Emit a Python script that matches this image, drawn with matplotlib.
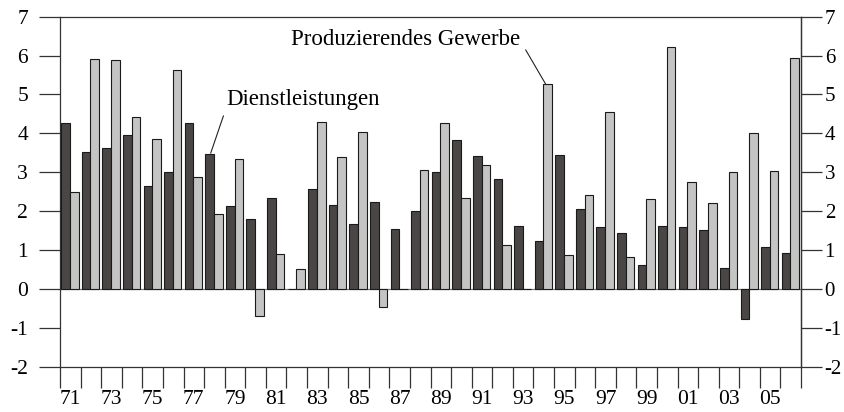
import numpy as np
import matplotlib.pyplot as plt
from matplotlib.ticker import FixedLocator, NullFormatter

years = list(range(1971, 2007))
dienstleistungen = [4.26, 3.52, 3.63, 3.96, 2.64, 3.00, 4.26, 3.48, 2.14, 1.79,
                    2.34, 0.00, 2.57, 2.16, 1.68, 2.23, 1.53, 2.01, 3.00, 3.82,
                    3.42, 2.82, 1.63, 1.23, 3.44, 2.05, 1.60, 1.45, 0.61, 1.63,
                    1.60, 1.52, 0.53, -0.77, 1.08, 0.93]
produzierendes = [2.48, 5.91, 5.88, 4.43, 3.85, 5.62, 2.89, 1.93, 3.33, -0.69,
                  0.90, 0.50, 4.29, 3.38, 4.03, -0.47, 0.00, 3.07, 4.26, 2.35,
                  3.19, 1.12, 0.00, 5.26, 0.86, 2.41, 4.55, 0.82, 2.30, 6.21,
                  2.74, 2.22, 3.00, 4.02, 3.04, 5.95]
year_labels = [f"{y % 100:02d}" for y in years[::2]]

plt.rcParams['font.family'] = ['Liberation Serif', 'DejaVu Serif']
plt.rcParams['axes.unicode_minus'] = False

fig = plt.figure(figsize=(8.45, 4.12), dpi=100)
ax = fig.add_axes([0.071, 0.110, 0.877, 0.8495])

x = np.array(years, dtype=float)
w = 0.42
dark = '#4a4646'
light = '#c4c4c4'
ax.bar(x - w / 2 - 0.02, dienstleistungen, width=w, color=dark,
       edgecolor='#1a1a1a', linewidth=0.8, zorder=3)
ax.bar(x + w / 2 - 0.02, produzierendes, width=w, color=light,
       edgecolor='#1a1a1a', linewidth=0.8, zorder=3)

ax.axhline(0, color='#7a7a7a', linewidth=0.9, zorder=2)

ax.set_xlim(1970.5, 2006.5)
ax.set_ylim(-2, 7)

# year labels in the middle of each slot, tick marks at slot boundaries
ax.xaxis.set_major_locator(FixedLocator(years[::2]))
ax.set_xticklabels(year_labels)
ax.xaxis.set_minor_locator(FixedLocator(np.arange(1970.5, 2007, 1.0)))
ax.xaxis.set_minor_formatter(NullFormatter())
ax.tick_params(axis='x', which='major', length=0, pad=17, labelsize=15.5)
ax.tick_params(axis='x', which='minor', length=15, width=0.9,
               direction='out', color='#333333')

ax.set_yticks(range(-2, 8))
ax.tick_params(axis='y', which='major', length=15, width=0.9, direction='out',
               labelsize=15.5, left=True, right=False, color='#333333', pad=8)

# right-hand axis carries the same scale
sec = ax.secondary_yaxis('right')
sec.set_yticks(range(-2, 8))
sec.tick_params(axis='y', length=15, width=0.9, direction='out',
                labelsize=15, color='#333333', pad=2)
sec.spines['right'].set_linewidth(0.9)
sec.spines['right'].set_color('#333333')

for s in ax.spines.values():
    s.set_linewidth(0.9)
    s.set_color('#333333')

ax.annotate('Produzierendes Gewerbe', xy=(1994.1, 5.26), xytext=(1992.85, 6.42),
            fontsize=16.5, ha='right', va='center',
            arrowprops=dict(arrowstyle='-', color='#222222', lw=0.8,
                            relpos=(1.0, 0.45), shrinkA=4, shrinkB=0))
ax.annotate('Dienstleistungen', xy=(1977.82, 3.49), xytext=(1978.6, 4.86),
            fontsize=16.5, ha='left', va='center',
            arrowprops=dict(arrowstyle='-', color='#222222', lw=0.8,
                            relpos=(0.0, 0.2), shrinkA=2, shrinkB=0))

fig.savefig('out.png', dpi=100)
